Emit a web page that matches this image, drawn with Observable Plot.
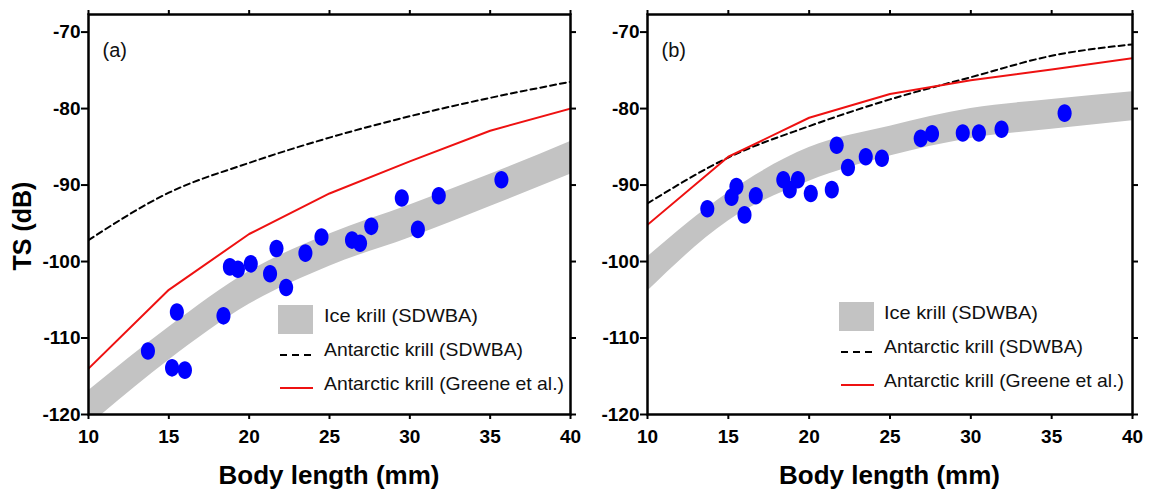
<!DOCTYPE html>
<html><head><meta charset="utf-8">
<script src="https://cdn.jsdelivr.net/npm/d3@7"></script>
<script src="https://cdn.jsdelivr.net/npm/@observablehq/plot@0.6"></script>
<style>
body{margin:0;background:#fff;font-family:"Liberation Sans",Arial,sans-serif;}
#wrap{position:relative;width:1152px;height:492px;overflow:hidden;background:#fff;}
.panel{position:absolute;top:0;width:576px;height:492px;}
.xtitle{position:absolute;top:460px;width:400px;margin-left:-200px;text-align:center;font-weight:bold;font-size:26px;line-height:30px;color:#000;}
.ytitle{position:absolute;left:22px;top:226px;transform:translate(-50%,-50%) rotate(-90deg);font-weight:bold;font-size:25px;white-space:nowrap;color:#000;}
.legend{position:absolute;top:0;left:0;pointer-events:none;}
</style></head>
<body><div id="wrap"></div>
<script>
// ---- data ----
const xTicks = [10, 15, 20, 25, 30, 35, 40];
const yTicks = [-120, -110, -100, -90, -80, -70];
const legendLabels = ["Ice krill (SDWBA)", "Antarctic krill (SDWBA)", "Antarctic krill (Greene et al.)"];
const panelLabels = ["(a)", "(b)"];
const xTitle = "Body length (mm)";
const yTitle = "TS (dB)";

const curveLength = [10, 15, 20, 25, 30, 35, 40];

// panel (a)
const lengthA = [13.7, 15.2, 16.0, 15.5, 18.4, 18.8, 19.3, 20.1, 21.3, 21.7, 22.3, 23.5, 24.5, 26.4, 26.9, 27.6, 29.5, 30.5, 31.8, 35.7];
const tsA = [-111.7, -113.9, -114.2, -106.6, -107.1, -100.7, -101.0, -100.3, -101.6, -98.3, -103.4, -98.9, -96.8, -97.2, -97.6, -95.4, -91.7, -95.8, -91.4, -89.3];
const iceUpperA = [-116.9, -108.6, -101.3, -96.4, -92.6, -88.6, -84.3];
const iceLowerA = [-121.5, -112.9, -105.6, -100.6, -96.9, -92.8, -88.6];
const antSdwbaA = [-97.2, -91.0, -87.1, -83.8, -81.0, -78.6, -76.5];
const greeneA = [-114.0, -103.7, -96.4, -91.1, -86.9, -82.9, -80.0];

// panel (b)
const lengthB = [13.7, 15.2, 15.5, 16.0, 16.7, 18.4, 18.8, 19.3, 20.1, 21.4, 21.7, 22.4, 23.5, 24.5, 26.9, 27.6, 29.5, 30.5, 31.9, 35.8];
const tsB = [-93.1, -91.6, -90.2, -93.9, -91.4, -89.3, -90.6, -89.3, -91.1, -90.6, -84.8, -87.7, -86.3, -86.5, -83.9, -83.3, -83.2, -83.2, -82.7, -80.6];
const iceUpperB = [-99.4, -91.0, -85.1, -82.3, -80.0, -78.8, -77.8];
const iceLowerB = [-103.9, -94.7, -89.5, -86.2, -83.9, -82.7, -81.6];
const antSdwbaB = [-92.4, -86.4, -82.3, -78.8, -75.9, -73.1, -71.6];
const greeneB = [-95.2, -86.3, -81.2, -78.1, -76.3, -74.9, -73.4];

const RED = "#ee1111";
const BLUE = "#0000ff";
const GRAY = "#c3c3c3";

// ellipse symbol for the measured points
const ellipse = {
  draw(ctx, size) {
    const r = Math.sqrt(size / Math.PI), rx = r * 0.8, ry = r, k = 0.5523;
    ctx.moveTo(rx, 0);
    ctx.bezierCurveTo(rx, ry * k, rx * k, ry, 0, ry);
    ctx.bezierCurveTo(-rx * k, ry, -rx, ry * k, -rx, 0);
    ctx.bezierCurveTo(-rx, -ry * k, -rx * k, -ry, 0, -ry);
    ctx.bezierCurveTo(rx * k, -ry, rx, -ry * k, rx, 0);
    ctx.closePath();
  }
};

const hyphenFmt = d => String(d);

function makePanel(cfg) {
  const curves = curveLength.map((len, i) => ({len, hi: cfg.up[i], lo: cfg.low[i], ant: cfg.ant[i], gr: cfg.gr[i]}));
  const pts = cfg.len.map((len, i) => ({len, ts: cfg.ts[i]}));
  return Plot.plot({
    width: 576, height: 492,
    marginLeft: cfg.ml, marginRight: cfg.mr, marginTop: 14, marginBottom: 78,
    x: {domain: [10, 40]},
    y: {domain: [-120, -67.7]},
    style: {fontFamily: "Liberation Sans, Arial, sans-serif", color: "#000", background: "transparent", overflow: "visible"},
    marks: [
      Plot.areaY(curves, {x: "len", y1: "lo", y2: "hi", fill: GRAY, curve: "monotone-x", clip: true}),
      Plot.line(curves, {x: "len", y: "ant", stroke: "#000", strokeWidth: 2, strokeDasharray: "6,4", curve: "monotone-x", clip: true}),
      Plot.line(curves, {x: "len", y: "gr", stroke: RED, strokeWidth: 2, clip: true}),
      Plot.dot(pts, {x: "len", y: "ts", r: 8.8, fill: BLUE, stroke: "none", symbol: ellipse}),
      Plot.text([cfg.label], {frameAnchor: "top-left", dx: 14, dy: 28, fontSize: 20, textAnchor: "start", fill: "#111"}),
      Plot.axisX({ticks: xTicks, tickSize: 5, tickPadding: 10, tickFormat: hyphenFmt, label: null, fontSize: 19, fontWeight: "bold", strokeWidth: 2}),
      Plot.axisY({ticks: yTicks, tickSize: 7, tickPadding: 1, tickFormat: hyphenFmt, label: null, fontSize: 19, fontWeight: "bold", strokeWidth: 2}),
      Plot.axisX({anchor: "top", ticks: xTicks, tickSize: 5, tickFormat: () => "", label: null, strokeWidth: 2}),
      Plot.axisY({anchor: "right", ticks: yTicks, tickSize: 5, tickFormat: () => "", label: null, strokeWidth: 2}),
      Plot.frame({stroke: "#000", strokeWidth: 2.5})
    ]
  });
}

function makeLegend(lg) {
  const ns = "http://www.w3.org/2000/svg";
  const svg = document.createElementNS(ns, "svg");
  svg.setAttribute("width", 576); svg.setAttribute("height", 492);
  svg.setAttribute("class", "legend");
  const add = (tag, attrs, txt) => {
    const el = document.createElementNS(ns, tag);
    for (const k in attrs) el.setAttribute(k, attrs[k]);
    if (txt) el.textContent = txt;
    svg.appendChild(el);
  };
  add("rect", {x: lg.sx, y: lg.y0 - 10, width: 35, height: 29, fill: GRAY});
  add("line", {x1: lg.sx + 2, x2: lg.sx + 35, y1: lg.y0 + 40, y2: lg.y0 + 40, stroke: "#000", "stroke-width": 2.2, "stroke-dasharray": "7,5"});
  add("line", {x1: lg.sx + 2, x2: lg.sx + 35, y1: lg.y0 + 73, y2: lg.y0 + 73, stroke: RED, "stroke-width": 2.2});
  legendLabels.forEach((t, i) => add("text", {x: lg.tx, y: lg.y0 + 7 + i * 34, "font-size": 19, "font-family": "Liberation Sans, Arial, sans-serif", fill: "#111", textLength: [154, 199, 240][i], lengthAdjust: "spacingAndGlyphs"}, t));
  return svg;
}

const wrap = document.getElementById("wrap");
const panels = [
  {left: 0, ml: 88, mr: 6, label: panelLabels[0], len: lengthA, ts: tsA, up: iceUpperA, low: iceLowerA, ant: antSdwbaA, gr: greeneA, lg: {sx: 278, tx: 324, y0: 315}},
  {left: 576, ml: 71, mr: 20, label: panelLabels[1], len: lengthB, ts: tsB, up: iceUpperB, low: iceLowerB, ant: antSdwbaB, gr: greeneB, lg: {sx: 263, tx: 308, y0: 312}}
];
panels.forEach(p => {
  const div = document.createElement("div");
  div.className = "panel";
  div.style.left = p.left + "px";
  div.appendChild(makePanel(p));
  div.appendChild(makeLegend(p.lg));
  const xt = document.createElement("div");
  xt.className = "xtitle";
  xt.textContent = xTitle;
  xt.style.left = (p.ml + (576 - p.ml - p.mr) / 2) + "px";
  div.appendChild(xt);
  wrap.appendChild(div);
});
const yt = document.createElement("div");
yt.className = "ytitle";
yt.textContent = yTitle;
wrap.appendChild(yt);
</script>
</body></html>
